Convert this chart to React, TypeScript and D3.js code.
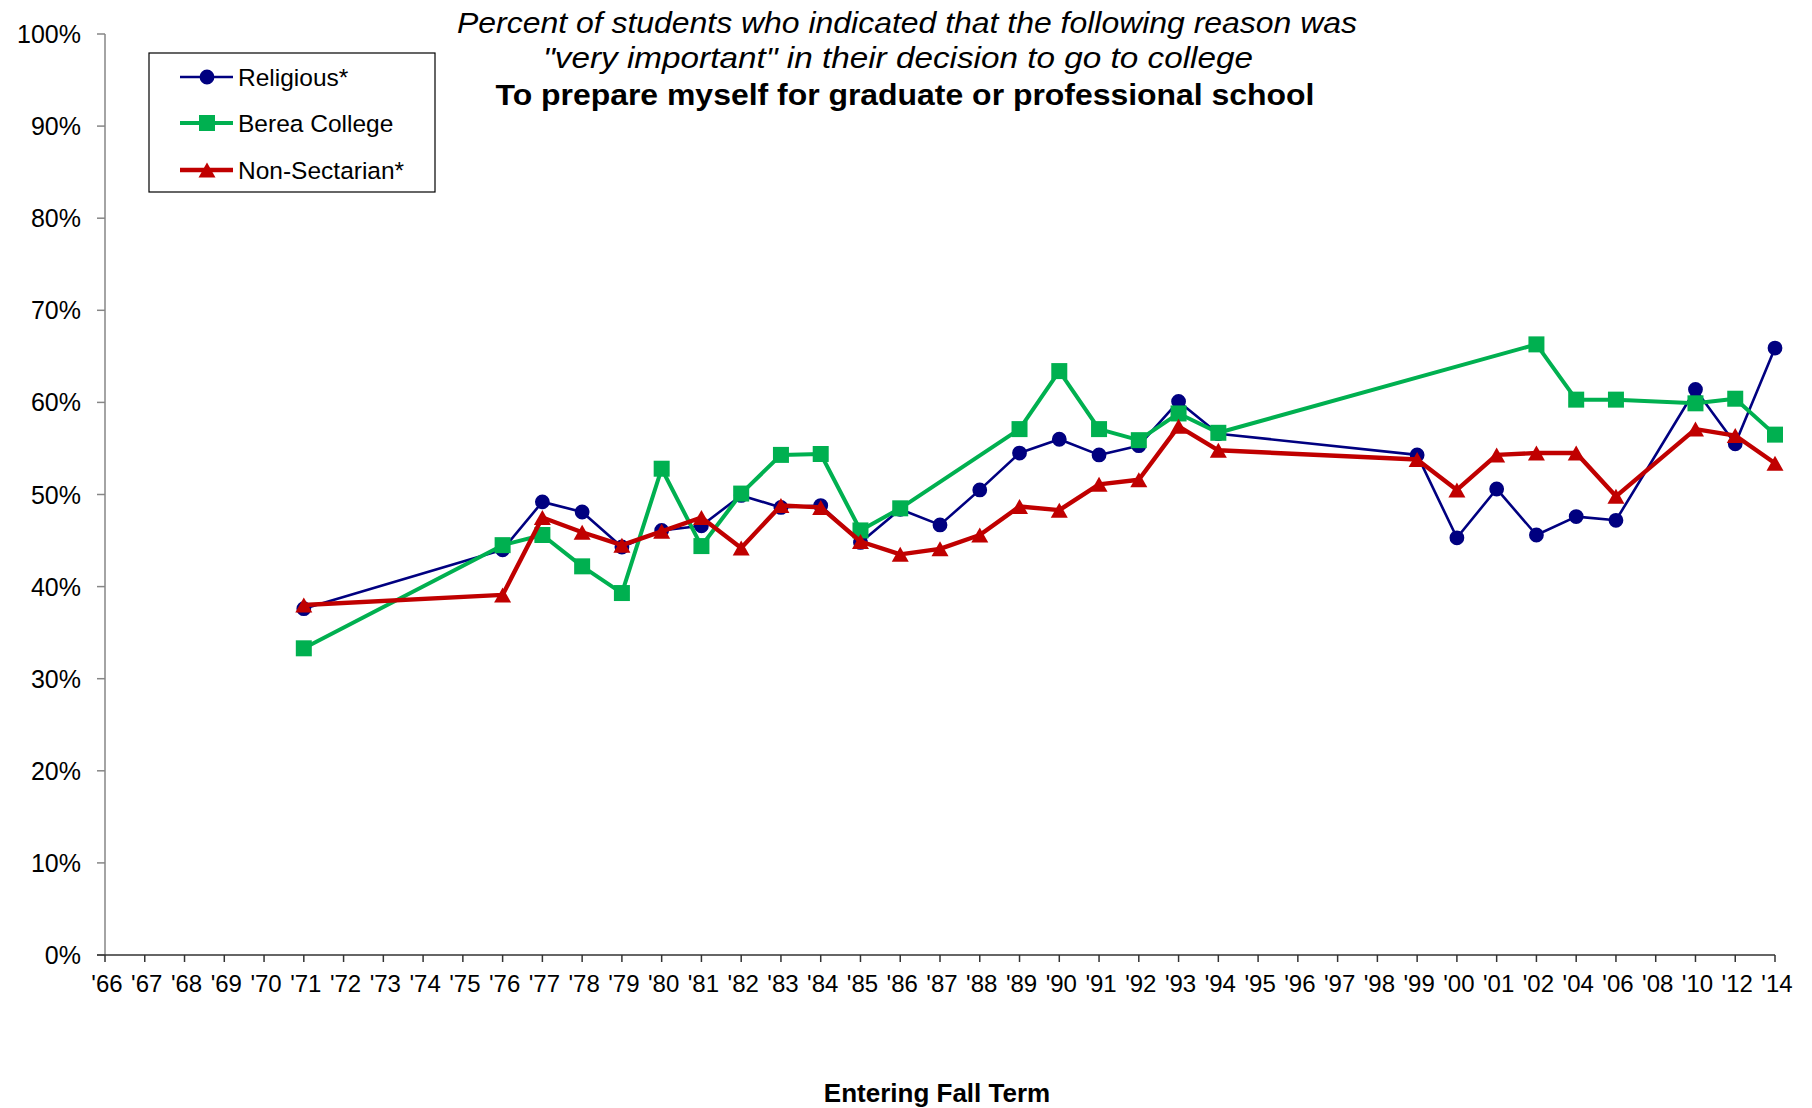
import React from "react";
import * as d3 from "d3";

const categories: string[] = [
  "'66", "'67", "'68", "'69", "'70", "'71", "'72", "'73", "'74", "'75",
  "'76", "'77", "'78", "'79", "'80", "'81", "'82", "'83", "'84", "'85",
  "'86", "'87", "'88", "'89", "'90", "'91", "'92", "'93", "'94", "'95",
  "'96", "'97", "'98", "'99", "'00", "'01", "'02", "'04", "'06", "'08",
  "'10", "'12", "'14",
];

const religious: (number | null)[] = [
  null, null, null, null, null, 37.6, null, null, null, null,
  44.0, 49.2, 48.1, 44.3, 46.1, 46.6, 49.9, 48.6, 48.8, 44.8,
  48.4, 46.7, 50.5, 54.5, 56.0, 54.3, 55.3, 60.1, 56.6, null,
  null, null, null, 54.3, 45.3, 50.6, 45.6, 47.6, 47.2, null,
  61.4, 55.5, 65.9,
];

const berea: (number | null)[] = [
  null, null, null, null, null, 33.3, null, null, null, null,
  44.5, 45.6, 42.2, 39.3, 52.8, 44.4, 50.1, 54.3, 54.4, 46.1,
  48.5, null, null, 57.1, 63.4, 57.1, 55.9, 58.8, 56.7, null,
  null, null, null, null, null, null, 66.3, 60.3, 60.3, null,
  59.9, 60.4, 56.5,
];

const nonSectarian: (number | null)[] = [
  null, null, null, null, null, 38.0, null, null, null, null,
  39.1, 47.5, 45.9, 44.5, 46.0, 47.5, 44.2, 48.8, 48.6, 44.9,
  43.5, 44.1, 45.6, 48.7, 48.3, 51.1, 51.6, 57.4, 54.8, null,
  null, null, null, 53.8, 50.5, 54.3, 54.5, 54.5, 49.8, null,
  57.1, 56.4, 53.4,
];

const yTicks: number[] = [0, 10, 20, 30, 40, 50, 60, 70, 80, 90, 100];

const seriesNames = ["Religious*", "Berea College", "Non-Sectarian*"];

const titleLines = [
  "Percent of students who indicated that the following reason was",
  "\"very important\"  in their decision to go to college",
  "To prepare myself for graduate or professional school",
];

const W = 1812;
const H = 1108;
const FONT = "Arial, 'Liberation Sans', Helvetica, sans-serif";

type Marker = "circle" | "square" | "triangle";

const series = [
  { name: seriesNames[0], values: religious, color: "#000080", width: 2.6, marker: "circle" as Marker },
  { name: seriesNames[1], values: berea, color: "#00B050", width: 4, marker: "square" as Marker },
  { name: seriesNames[2], values: nonSectarian, color: "#C00000", width: 4.4, marker: "triangle" as Marker },
];

function markerPath(m: Marker): string {
  if (m === "circle") return d3.symbol().type(d3.symbolCircle).size(Math.PI * 7.4 * 7.4)() as string;
  if (m === "square") return d3.symbol().type(d3.symbolSquare).size(16 * 16)() as string;
  const w = 17, h = 15;
  return `M0,${-h / 2}L${w / 2},${h / 2}L${-w / 2},${h / 2}Z`;
}

export default function App() {
  const x = d3.scalePoint<string>().domain(categories).range([105, 1775]);
  const y = d3.scaleLinear().domain([0, 100]).range([955, 34]);

  const line = d3
    .line<{ c: string; v: number }>()
    .x((d) => x(d.c) as number)
    .y((d) => y(d.v));

  const legendX = 149, legendY = 53, legendW = 286, legendH = 139;
  const legendRows = [77, 123, 170];

  return (
    <svg
      width={W}
      height={H}
      style={{ position: "absolute", left: 0, top: 0, background: "#fff" }}
      fontFamily={FONT}
    >
      <rect x={0} y={0} width={W} height={H} fill="#fff" />

      {/* Title */}
      <text x={907} y={33} textAnchor="middle" fontSize={29} fontStyle="italic" fill="#000"
        textLength={900} lengthAdjust="spacingAndGlyphs">{titleLines[0]}</text>
      <text x={898} y={68} textAnchor="middle" fontSize={29} fontStyle="italic" fill="#000"
        textLength={710} lengthAdjust="spacingAndGlyphs">{titleLines[1]}</text>
      <text x={905} y={105} textAnchor="middle" fontSize={30} fontWeight="bold" fill="#000"
        textLength={819} lengthAdjust="spacingAndGlyphs">{titleLines[2]}</text>

      {/* Y axis */}
      <line x1={105} x2={105} y1={y(100)} y2={y(0)} stroke="#868686" strokeWidth={1.5} />
      {yTicks.map((t) => (
        <g key={t}>
          <line x1={97} x2={105} y1={y(t)} y2={y(t)} stroke="#868686" strokeWidth={1.5} />
          <text x={81} y={y(t)} dy="0.36em" textAnchor="end" fontSize={25} fill="#000">
            {t}%
          </text>
        </g>
      ))}

      {/* X axis */}
      <line x1={97} x2={1775} y1={y(0)} y2={y(0)} stroke="#333" strokeWidth={1.5} />
      {categories.map((c) => (
        <g key={c}>
          <line x1={x(c)} x2={x(c)} y1={y(0)} y2={y(0) + 7} stroke="#333" strokeWidth={1.5} />
          <text x={(x(c) as number) + 2} y={992} textAnchor="middle" fontSize={24} fill="#000">
            {c}
          </text>
        </g>
      ))}
      <text x={937} y={1102} textAnchor="middle" fontSize={26} fontWeight="bold" fill="#000">
        Entering Fall Term
      </text>

      {/* Series */}
      {series.map((s) => {
        const pts = categories
          .map((c, i) => ({ c, v: s.values[i] }))
          .filter((d) => d.v !== null) as { c: string; v: number }[];
        const mp = markerPath(s.marker);
        return (
          <g key={s.name}>
            <path d={line(pts) as string} fill="none" stroke={s.color} strokeWidth={s.width}
              strokeLinejoin="round" />
            {pts.map((p) => (
              <path key={p.c} d={mp} transform={`translate(${x(p.c)},${y(p.v)})`} fill={s.color} />
            ))}
          </g>
        );
      })}

      {/* Legend */}
      <rect x={legendX} y={legendY} width={legendW} height={legendH} fill="#fff" stroke="#000" strokeWidth={1.2} />
      {series.map((s, i) => (
        <g key={s.name}>
          <line x1={180} x2={233} y1={legendRows[i]} y2={legendRows[i]} stroke={s.color} strokeWidth={s.width} />
          <path d={markerPath(s.marker)} transform={`translate(207,${legendRows[i]})`} fill={s.color} />
          <text x={238} y={legendRows[i]} dy="0.36em" fontSize={24.5} fill="#000">
            {s.name}
          </text>
        </g>
      ))}
    </svg>
  );
}
